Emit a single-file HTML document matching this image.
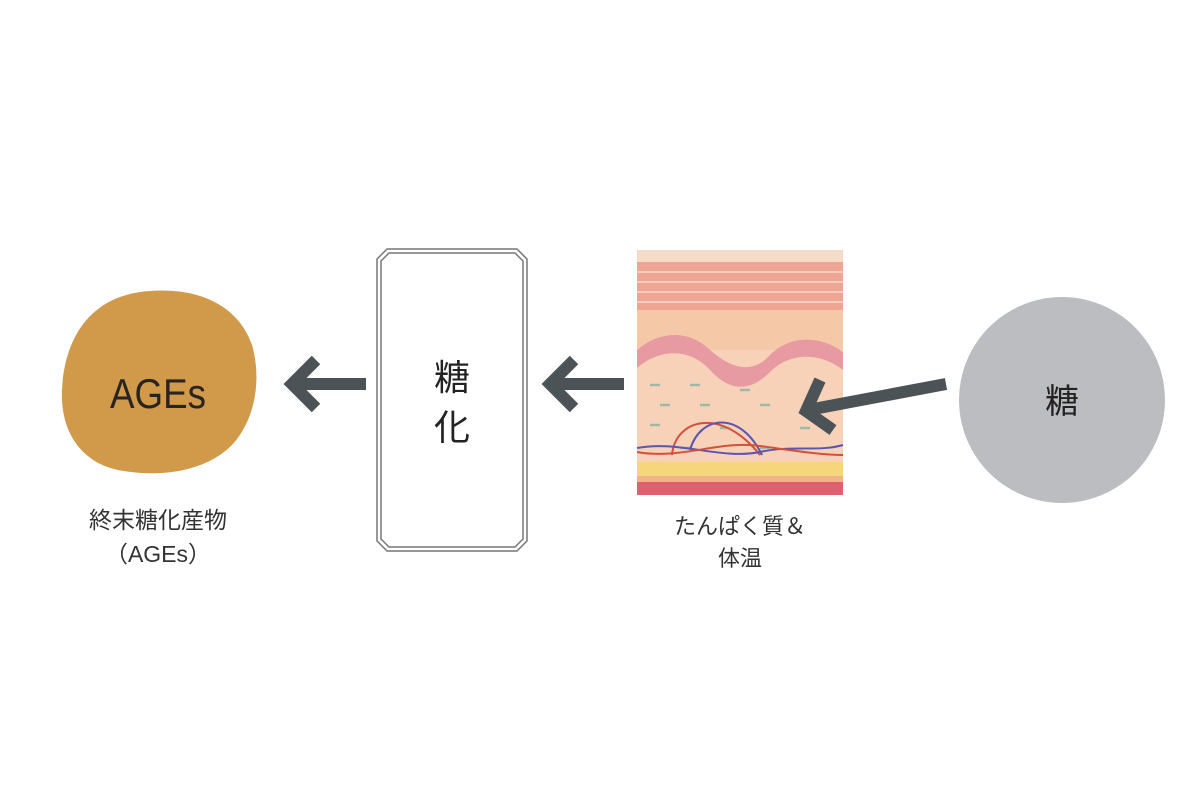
<!DOCTYPE html>
<html><head><meta charset="utf-8"><style>
html,body{margin:0;padding:0;background:#fff;}
svg text{font-family:"Liberation Sans","Noto Sans CJK JP",sans-serif;}
</style></head><body>
<svg width="1200" height="800" viewBox="0 0 1200 800" xmlns="http://www.w3.org/2000/svg">
<rect width="1200" height="800" fill="#fff"/>
<!-- AGEs blob -->
<path d="M150,291 C205,287 240,310 252,345 C262,380 255,420 232,445 C205,472 160,478 118,470 C80,462 60,430 62,390 C64,345 85,295 150,291 Z" fill="#d09a4a"/>
<text x="158" y="408" text-anchor="middle" font-size="42" fill="#2a2420" textLength="96" lengthAdjust="spacingAndGlyphs">AGEs</text>
<text x="158" y="528" text-anchor="middle" font-size="23" fill="#333">終末糖化産物</text>
<text x="158" y="562" text-anchor="middle" font-size="23" fill="#333">（AGEs）</text>
<!-- glycation box -->
<path d="M387,249 L517,249 L527,259 L527,541 L517,551 L387,551 L377,541 L377,259 Z" fill="#fff" stroke="#777" stroke-width="1.5"/>
<path d="M389,253 L515,253 L523,261 L523,539 L515,547 L389,547 L381,539 L381,261 Z" fill="#fff" stroke="#777" stroke-width="1.5"/>
<text x="452" y="390" text-anchor="middle" font-size="36" fill="#222">糖</text>
<text x="452" y="440" text-anchor="middle" font-size="36" fill="#222">化</text>
<!-- skin -->
<g>
<rect x="637" y="250" width="206" height="245" fill="#f7d2b8"/>
<rect x="637" y="250" width="206" height="12" fill="#f5dcc8"/>
<rect x="637" y="262" width="206" height="48" fill="#eea594"/>
<g stroke="#f8d9cc" stroke-width="1.5">
<line x1="637" y1="272" x2="843" y2="272"/><line x1="637" y1="282" x2="843" y2="282"/><line x1="637" y1="292" x2="843" y2="292"/><line x1="637" y1="302" x2="843" y2="302"/>
</g>
<rect x="637" y="310" width="206" height="40" fill="#f5c9a8"/>
<path d="M637,350 C660,330 690,330 710,350 C735,372 755,372 770,355 C790,335 820,335 843,352 L843,370 C820,352 790,352 770,372 C750,392 730,392 710,370 C690,348 660,348 637,368 Z" fill="#e89aa2"/>
<g stroke="#9fb9a8" stroke-width="2.5">
<line x1="650" y1="385" x2="660" y2="385"/><line x1="690" y1="385" x2="700" y2="385"/><line x1="740" y1="390" x2="750" y2="390"/>
<line x1="660" y1="405" x2="670" y2="405"/><line x1="700" y1="405" x2="710" y2="405"/><line x1="760" y1="405" x2="770" y2="405"/>
<line x1="650" y1="425" x2="660" y2="425"/><line x1="720" y1="428" x2="730" y2="428"/><line x1="800" y1="428" x2="810" y2="428"/>
<line x1="680" y1="448" x2="690" y2="448"/><line x1="760" y1="448" x2="770" y2="448"/>
</g>
<g fill="none" stroke-width="2">
<path d="M672,455 C675,420 720,405 760,455" stroke="#d0523a"/>
<path d="M690,450 C700,415 740,410 762,455" stroke="#5a55b0"/>
<path d="M637,448 C680,440 720,460 760,452 C790,445 820,452 843,445" stroke="#5a55b0"/>
<path d="M637,452 C680,460 720,440 760,446 C790,450 820,455 843,455" stroke="#d0523a"/>
</g>
<rect x="637" y="462" width="206" height="14" fill="#f6d67a"/>
<rect x="637" y="476" width="206" height="6" fill="#f0b48a"/>
<rect x="637" y="482" width="206" height="13" fill="#e06070"/>
</g>
<!-- arrows -->
<g stroke="#4b5357" stroke-width="12" fill="none" stroke-linejoin="miter">
<line x1="366" y1="384" x2="292" y2="384"/>
<polyline points="316,360 292,384 316,408"/>
<line x1="624" y1="384" x2="550" y2="384"/>
<polyline points="574,360 550,384 574,408"/>
<line x1="946" y1="384" x2="808" y2="410"/>
<polyline points="820,380 806,411 833,430"/>
</g>
<text x="740" y="534" text-anchor="middle" font-size="22" fill="#333">たんぱく質＆</text>
<text x="740" y="566" text-anchor="middle" font-size="22" fill="#333">体温</text>
<!-- sugar circle -->
<circle cx="1062" cy="400" r="103" fill="#bcbdc1"/>
<text x="1062" y="413" text-anchor="middle" font-size="34" fill="#222">糖</text>
</svg>
</body></html>
